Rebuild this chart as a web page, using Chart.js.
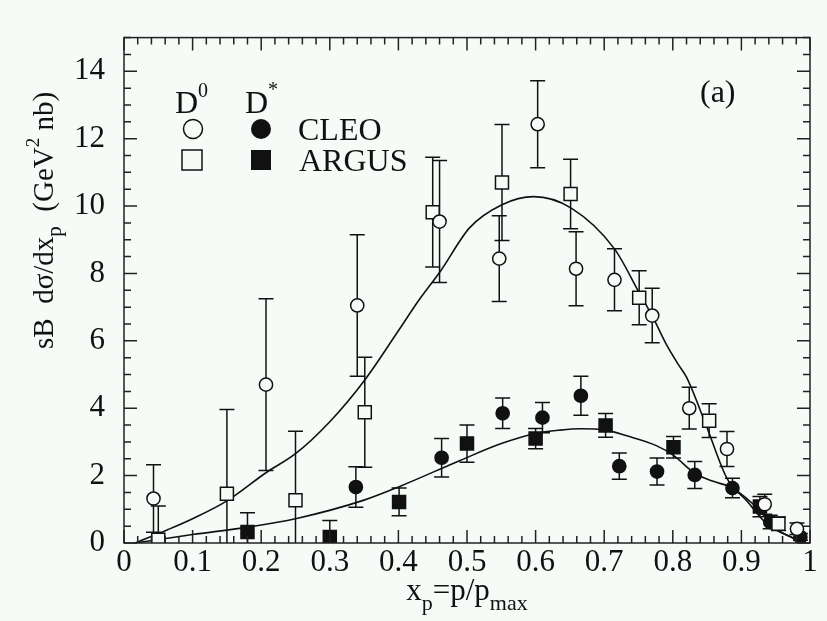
<!DOCTYPE html>
<html>
<head>
<meta charset="utf-8">
<script src="https://cdn.jsdelivr.net/npm/chart.js@4.4.1/dist/chart.umd.min.js"></script>
<style>
  html, body { margin: 0; padding: 0; background: #f7fbf7; }
  #wrap { width: 827px; height: 621px; }
</style>
</head>
<body>
<div id="wrap"><canvas id="chart" width="827" height="621"></canvas></div>
<script>
// D0, CLEO (open circles)
const d0CleoX = [0.043, 0.207, 0.340, 0.460, 0.547, 0.603, 0.659, 0.715, 0.770, 0.824, 0.879, 0.934, 0.981];
const d0CleoY = [1.32, 4.70, 7.05, 9.54, 8.44, 12.43, 8.14, 7.81, 6.75, 4.00, 2.79, 1.15, 0.42];
const d0CleoErr = [1.0, 2.55, 2.1, 1.81, 1.27, 1.29, 1.1, 0.92, 0.81, 0.62, 0.52, 0.3, 0.17];

// D0, ARGUS (open squares)
const d0ArgusX = [0.050, 0.150, 0.250, 0.351, 0.450, 0.551, 0.651, 0.751, 0.853, 0.954];
const d0ArgusY = [0.1, 1.46, 1.27, 3.88, 9.82, 10.70, 10.36, 7.28, 3.63, 0.57];
const d0ArgusErr = [1.0, 2.5, 2.05, 1.63, 1.63, 1.72, 1.03, 0.8, 0.5, 0.2];

// D*, CLEO (filled circles)
const dsCleoX = [0.338, 0.463, 0.552, 0.610, 0.666, 0.722, 0.777, 0.832, 0.887, 0.942, 0.986];
const dsCleoY = [1.66, 2.53, 3.85, 3.72, 4.37, 2.28, 2.12, 2.02, 1.63, 0.62, 0.18];
const dsCleoErr = [0.6, 0.57, 0.45, 0.45, 0.58, 0.39, 0.4, 0.4, 0.29, 0.2, 0.1];

// D*, ARGUS (filled squares)
const dsArgusX = [0.180, 0.300, 0.401, 0.500, 0.600, 0.702, 0.801, 0.927];
const dsArgusY = [0.33, 0.18, 1.22, 2.95, 3.10, 3.49, 2.84, 1.08];
const dsArgusErr = [0.57, 0.49, 0.41, 0.55, 0.3, 0.35, 0.32, 0.3];

// fitted curves
const d0FitX = [0.016, 0.062, 0.10, 0.15, 0.208, 0.25, 0.30, 0.351, 0.40, 0.431, 0.461, 0.504, 0.551, 0.597, 0.652, 0.715, 0.751, 0.772, 0.791, 0.808, 0.820, 0.849, 0.879, 0.908, 0.937, 0.976, 0.99];
const d0FitY = [0, 0.38, 0.72, 1.25, 2.10, 2.65, 3.6, 4.84, 6.3, 7.24, 8.06, 9.36, 10.04, 10.28, 9.94, 8.73, 7.43, 6.66, 5.88, 5.30, 4.92, 3.47, 1.92, 1.25, 0.57, 0.14, 0];

const dsFitX = [0.016, 0.10, 0.180, 0.25, 0.351, 0.402, 0.490, 0.55, 0.60, 0.636, 0.665, 0.702, 0.733, 0.776, 0.801, 0.832, 0.859, 0.887, 0.927, 0.947, 0.976, 0.99];
const dsFitY = [0, 0.25, 0.47, 0.72, 1.28, 1.68, 2.45, 2.95, 3.25, 3.35, 3.39, 3.35, 3.18, 2.89, 2.60, 2.07, 1.83, 1.63, 0.96, 0.47, 0.14, 0];

const xTicks = [0, 0.1, 0.2, 0.3, 0.4, 0.5, 0.6, 0.7, 0.8, 0.9, 1];
const yTicks = [0, 2, 4, 6, 8, 10, 12, 14];

const BG = "#f7fbf7";
const INK = "#111";
const SERIF = "'Liberation Serif', 'DejaVu Serif', serif";

const pts = (xs, ys) => xs.map((x, i) => ({ x: x, y: ys[i] }));

function markerSet(label, xs, ys, errs, style, filled) {
  return {
    label: label,
    data: pts(xs, ys),
    errors: errs,
    showLine: false,
    pointStyle: style,
    pointRadius: style === "rect" ? 9.2 : 6.6,
    pointBackgroundColor: filled ? INK : BG,
    pointBorderColor: INK,
    pointBorderWidth: 1.5
  };
}

function curveSet(label, xs, ys) {
  return {
    label: label,
    data: pts(xs, ys),
    showLine: true,
    pointRadius: 0,
    borderColor: INK,
    borderWidth: 1.6,
    cubicInterpolationMode: "monotone",
    fill: false
  };
}

// error bars, drawn under the markers
const errorBars = {
  id: "errorBars",
  beforeDatasetsDraw(chart) {
    const { ctx, chartArea: a, scales: { x, y } } = chart;
    ctx.save();
    ctx.beginPath();
    ctx.rect(a.left, a.top, a.right - a.left, a.bottom - a.top);
    ctx.clip();
    ctx.strokeStyle = INK;
    ctx.lineWidth = 1.5;
    chart.data.datasets.forEach(ds => {
      if (!ds.errors) return;
      ds.data.forEach((p, i) => {
        const e = ds.errors[i];
        const px = x.getPixelForValue(p.x);
        const top = y.getPixelForValue(p.y + e);
        const bot = y.getPixelForValue(p.y - e);
        ctx.beginPath();
        ctx.moveTo(px, top); ctx.lineTo(px, bot);
        ctx.moveTo(px - 7.5, top); ctx.lineTo(px + 7.5, top);
        ctx.moveTo(px - 7.5, bot); ctx.lineTo(px + 7.5, bot);
        ctx.stroke();
      });
    });
    ctx.restore();
  }
};

// background, frame with inward ticks, legend and labels
function drawPieces(ctx, x, y, pieces) {
  pieces.forEach(p => {
    ctx.font = p.size + "px " + SERIF;
    ctx.fillText(p.t, x, y + (p.dy || 0));
    x += ctx.measureText(p.t).width;
  });
}
function piecesWidth(ctx, pieces) {
  let w = 0;
  pieces.forEach(p => { ctx.font = p.size + "px " + SERIF; w += ctx.measureText(p.t).width; });
  return w;
}

const decorations = {
  id: "decorations",
  beforeDraw(chart) {
    const ctx = chart.ctx;
    ctx.save();
    ctx.fillStyle = BG;
    ctx.fillRect(0, 0, chart.width, chart.height);
    ctx.restore();
  },
  afterDraw(chart) {
    const { ctx, chartArea: a, scales: { x, y } } = chart;
    ctx.save();
    ctx.strokeStyle = "#222";
    ctx.lineWidth = 1.5;
    ctx.strokeRect(a.left, a.top, a.right - a.left, a.bottom - a.top);
    ctx.beginPath();
    for (let i = 0; i <= 50; i++) {
      const v = i / 50;
      const px = x.getPixelForValue(v);
      const len = i % 5 === 0 ? 13 : 7;
      ctx.moveTo(px, a.bottom); ctx.lineTo(px, a.bottom - len);
      ctx.moveTo(px, a.top); ctx.lineTo(px, a.top + len);
    }
    for (let i = 0; i <= 30; i++) {
      const v = i / 2;
      const py = y.getPixelForValue(v);
      const len = i % 4 === 0 ? 13 : 7;
      ctx.moveTo(a.left, py); ctx.lineTo(a.left + len, py);
      ctx.moveTo(a.right, py); ctx.lineTo(a.right - len, py);
    }
    ctx.stroke();

    ctx.fillStyle = INK;
    ctx.textBaseline = "alphabetic";
    ctx.textAlign = "left";

    // legend
    drawPieces(ctx, 175, 113, [{ t: "D", size: 32 }, { t: "0", size: 20, dy: -16 }]);
    drawPieces(ctx, 245, 113, [{ t: "D", size: 32 }, { t: "*", size: 20, dy: -17 }]);
    ctx.font = "32px " + SERIF;
    ctx.fillText("CLEO", 298, 140);
    ctx.fillText("ARGUS", 299, 171);
    ctx.fillText("(a)", 700, 102);

    ctx.lineWidth = 1.5;
    ctx.strokeStyle = INK;
    ctx.beginPath(); ctx.arc(193, 129, 9.5, 0, Math.PI * 2); ctx.stroke();
    ctx.beginPath(); ctx.arc(261, 129, 10, 0, Math.PI * 2); ctx.fill();
    ctx.strokeRect(182, 150, 20, 20);
    ctx.fillRect(251, 150, 20, 20);

    // x title
    const xt = [{ t: "x", size: 31 }, { t: "p", size: 22, dy: 10 }, { t: "=p/p", size: 31 }, { t: "max", size: 22, dy: 10 }];
    drawPieces(ctx, (a.left + a.right) / 2 - piecesWidth(ctx, xt) / 2, 600, xt);

    // y title
    ctx.translate(53, 349);
    ctx.rotate(-Math.PI / 2);
    drawPieces(ctx, 0, 0, [
      { t: "sB  d\u03c3/dx", size: 29 }, { t: "p", size: 21, dy: 8 },
      { t: "  (GeV", size: 29 }, { t: "2", size: 19, dy: -14 }, { t: " nb)", size: 29 }
    ]);
    ctx.restore();
  }
};

new Chart(document.getElementById("chart"), {
  type: "scatter",
  data: {
    datasets: [
      markerSet("D0 CLEO", d0CleoX, d0CleoY, d0CleoErr, "circle", false),
      markerSet("D0 ARGUS", d0ArgusX, d0ArgusY, d0ArgusErr, "rect", false),
      markerSet("D* CLEO", dsCleoX, dsCleoY, dsCleoErr, "circle", true),
      markerSet("D* ARGUS", dsArgusX, dsArgusY, dsArgusErr, "rect", true),
      curveSet("D0 fit", d0FitX, d0FitY),
      curveSet("D* fit", dsFitX, dsFitY)
    ]
  },
  options: {
    responsive: false,
    animation: false,
    layout: { padding: { left: 0, top: 25, right: 17, bottom: 0 } },
    plugins: { legend: { display: false }, tooltip: { enabled: false } },
    scales: {
      x: {
        type: "linear", min: 0, max: 1,
        afterFit: s => { s.height = 78; },
        afterBuildTicks: s => { s.ticks = xTicks.map(v => ({ value: v })); },
        grid: { display: false, drawTicks: false },
        border: { display: false },
        ticks: {
          padding: 1, color: INK, maxRotation: 0,
          font: { family: SERIF, size: 31 },
          callback: v => (v === 0 || v === 1) ? String(v) : v.toFixed(1)
        }
      },
      y: {
        type: "linear", min: 0, max: 15,
        afterFit: s => { s.width = 124; },
        afterBuildTicks: s => { s.ticks = yTicks.map(v => ({ value: v })); },
        grid: { display: false, drawTicks: false },
        border: { display: false },
        ticks: { padding: 19, color: INK, font: { family: SERIF, size: 31 } }
      }
    }
  },
  plugins: [errorBars, decorations]
});
</script>
</body>
</html>
